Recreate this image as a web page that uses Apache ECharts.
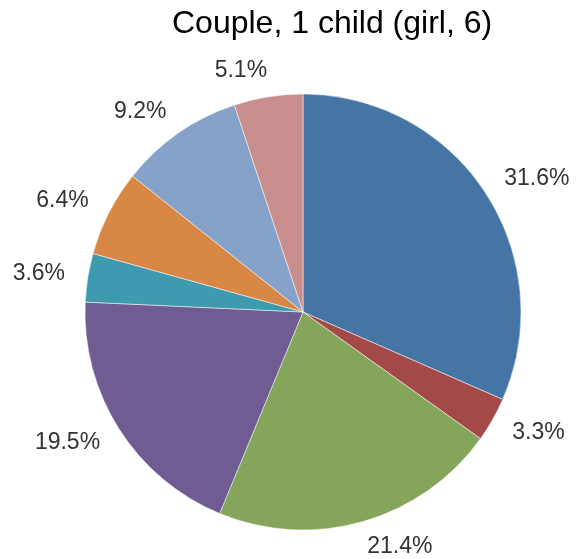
<!DOCTYPE html>
<html>
<head>
<meta charset="utf-8">
<script src="https://cdn.jsdelivr.net/npm/echarts@6/dist/echarts.min.js"></script>
<style>
  html, body { margin: 0; padding: 0; background: #fff; }
  #chartBox { width: 576px; height: 559px; }
</style>
</head>
<body>
<div id="chartBox"></div>
<script>
var titleText = 'Couple, 1 child (girl, 6)';
var sliceNames = ['A', 'B', 'C', 'D', 'E', 'F', 'G', 'H'];
var sliceValues = [31.6, 3.3, 21.4, 19.5, 3.6, 6.4, 9.2, 5.1];
var sliceColors = ['#4575A5', '#A34A49', '#84A55A', '#6E5C92', '#3D9AAF', '#D88844', '#87A2C9', '#C88D8D'];

var pieList = [];
for (var i = 0; i < sliceValues.length; i++) {
    pieList.push({value: sliceValues[i], name: sliceNames[i]});
}

var myChart = echarts.init(document.getElementById('chartBox'));
var option = {
    color: sliceColors,
    animation: false,
    title: {
        text: titleText,
        left: 167,
        top: 3,
        textStyle: {
            fontFamily: 'Liberation Sans',
            fontSize: 32,
            fontWeight: 'normal',
            color: '#000'
        }
    },
    series: [
        {
            type: 'pie',
            center: [303, 312],
            radius: [0, 218],
            startAngle: 90,
            clockwise: true,
            avoidLabelOverlap: false,
            data: pieList,
            itemStyle: {
                borderColor: '#fff',
                borderWidth: 0.5
            },
            label: {
                show: true,
                position: 'outside',
                formatter: function (p) { return p.value.toFixed(1) + '%'; },
                fontFamily: 'Liberation Sans',
                fontSize: 23,
                color: '#333',
                distanceToLabelLine: -3
            },
            labelLine: {
                show: false,
                length: 26,
                length2: 0
            },
            emphasis: { disabled: true }
        }
    ]
};
myChart.setOption(option);
</script>
</body>
</html>
